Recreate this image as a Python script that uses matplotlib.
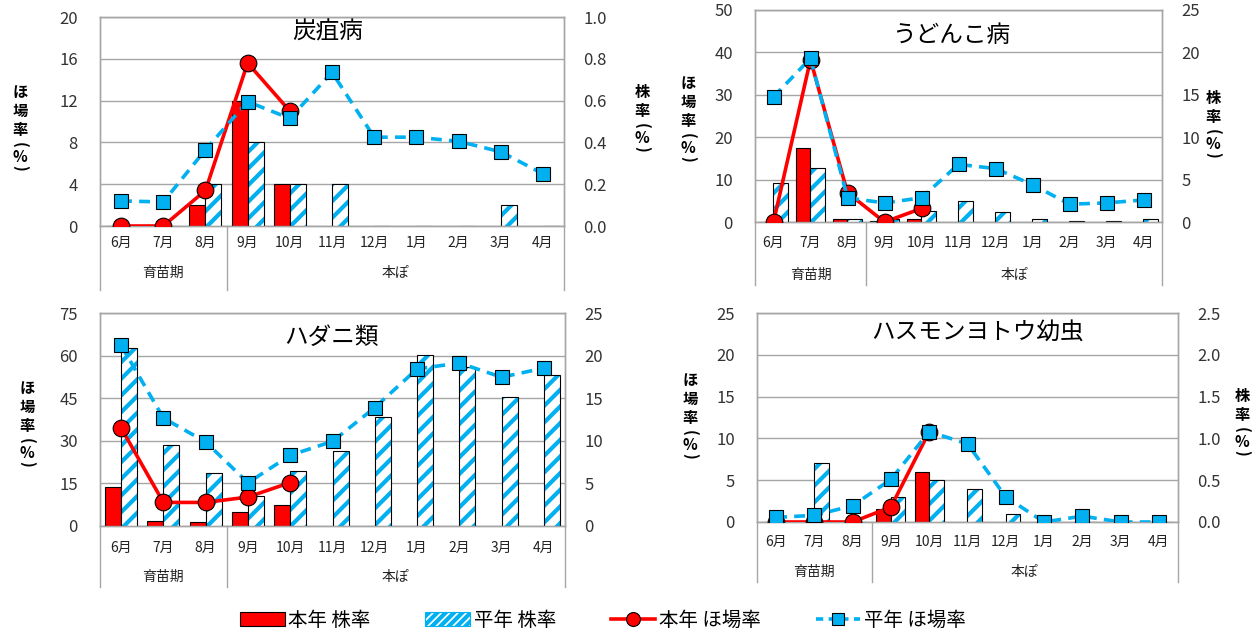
import numpy as np
import matplotlib
matplotlib.use('Agg')
import matplotlib.pyplot as plt
import matplotlib.transforms as mtransforms
from matplotlib.patches import Patch
from matplotlib.lines import Line2D

plt.rcParams['font.family'] = ['Noto Sans CJK JP', 'DejaVu Sans']
plt.rcParams['hatch.linewidth'] = 3.0

NA = np.nan
months = ['6月', '7月', '8月', '9月', '10月', '11月', '12月', '1月', '2月', '3月', '4月']
groups = ['育苗期', '本ぽ']

# 炭疽病
tanso_hon_kabu = [0, 0, 0.1, 0.6, 0.2, NA, NA, NA, NA, NA, NA]
tanso_hei_kabu = [0, 0, 0.2, 0.4, 0.2, 0.2, 0, 0, 0, 0.1, 0]
tanso_hon_hojo = [0, 0, 3.4, 15.6, 11.0, NA, NA, NA, NA, NA, NA]
tanso_hei_hojo = [2.4, 2.3, 7.3, 11.9, 10.3, 14.7, 8.5, 8.5, 8.1, 7.1, 5.0]

# うどんこ病
udon_hon_kabu = [0, 8.7, 0.3, 0.1, 0.4, NA, NA, NA, NA, NA, NA]
udon_hei_kabu = [4.6, 6.4, 0.3, 0.3, 1.3, 2.5, 1.2, 0.4, 0.1, 0.1, 0.3]
udon_hon_hojo = [0, 38.3, 6.9, 0, 3.2, NA, NA, NA, NA, NA, NA]
udon_hei_hojo = [29.5, 38.6, 5.7, 4.5, 5.7, 13.6, 12.6, 8.8, 4.2, 4.5, 5.2]

# ハダニ類
hadani_hon_kabu = [4.6, 0.6, 0.45, 1.6, 2.5, NA, NA, NA, NA, NA, NA]
hadani_hei_kabu = [20.9, 9.5, 6.2, 3.5, 6.4, 8.8, 12.8, 20.1, 18.7, 15.1, 17.7]
hadani_hon_hojo = [34.5, 8.3, 8.3, 10.2, 15.3, NA, NA, NA, NA, NA, NA]
hadani_hei_hojo = [63.6, 38.0, 29.6, 15.2, 24.9, 29.8, 41.7, 55.3, 57.4, 52.4, 55.6]

# ハスモンヨトウ幼虫
hasu_hon_kabu = [0, 0, 0, 0.15, 0.6, NA, NA, NA, NA, NA, NA]
hasu_hei_kabu = [0, 0.7, 0, 0.3, 0.5, 0.4, 0.1, 0, 0, 0, 0]
hasu_hon_hojo = [0, 0, 0, 1.8, 10.8, NA, NA, NA, NA, NA, NA]
hasu_hei_hojo = [0.55, 0.8, 1.95, 5.1, 10.8, 9.35, 3.0, 0, 0.7, 0, 0]

RED = '#FF0000'
BLUE = '#00B0F0'
GRAY = '#A6A6A6'
W, H = 1259, 633

fig = plt.figure(figsize=(W / 100, H / 100), dpi=100)


def px(x, y):
    return x / W, 1 - y / H


def vlabel(text, x, y):
    # stacked vertical label, brackets turned sideways like the original
    steps = {'(': 15, '%': 12, ')': 11}
    cy = y
    for i, ch in enumerate(text):
        if i > 0:
            cy += steps.get(ch, 19)
        rot = -90 if ch in '()' else 0
        fig.text(*px(x, cy), ch, ha='center', va='center', rotation=rot,
                 fontsize=11, fontweight='bold')


def panel(box, title, tpos, hon_kabu, hei_kabu, hon_hojo, hei_hojo,
          lmax, rmax, rfmt, offs):
    left, zero, right, top = box
    ax = fig.add_axes([left / W, 1 - zero / H, (right - left) / W, (zero - top) / H])
    ax2 = ax.twinx()
    ax.set_zorder(ax2.get_zorder() + 1)
    ax.patch.set_visible(False)
    hpx = zero - top

    x = np.arange(len(months))
    w = 0.38
    ax2.bar(x - w / 2, hon_kabu, w, color=RED, edgecolor='black', lw=0.8, zorder=3)
    ax2.bar(x + w / 2, hei_kabu, w, color='white', edgecolor=BLUE, hatch='//', lw=0, zorder=3)
    ax2.bar(x + w / 2, hei_kabu, w, fill=False, edgecolor='black', lw=0.8, zorder=4)

    ax.plot(x, hei_hojo, color=BLUE, lw=2.6, dashes=(3, 2), marker='s', ms=10,
            mfc=BLUE, mec='black', mew=0.8, zorder=4)
    ax.plot(x, hon_hojo, color=RED, lw=2.6, marker='o', ms=12,
            mfc=RED, mec='black', mew=0.8, zorder=3)

    ax.set_xlim(-0.5, len(months) - 0.5)
    ax.set_ylim(0, lmax)
    ax2.set_ylim(0, rmax)
    ax.set_yticks(np.linspace(0, lmax, 6))
    ax.set_yticklabels([f'{v:g}' for v in np.linspace(0, lmax, 6)])
    ax2.set_yticks(np.linspace(0, rmax, 6))
    ax2.set_yticklabels([rfmt.format(v) for v in np.linspace(0, rmax, 6)])
    ax.tick_params(axis='y', length=0, pad=16, labelsize=12, colors='#333333')
    ax2.tick_params(axis='y', length=0, pad=14, labelsize=12, colors='#333333')
    ax.set_xticks([])
    ax2.grid(axis='y', color=GRAY, lw=1)
    ax2.set_axisbelow(True)
    for a in (ax, ax2):
        for sp in a.spines.values():
            sp.set_color(GRAY)
            sp.set_linewidth(1)

    trans = mtransforms.blended_transform_factory(ax.transData, ax.transAxes)
    m_off, g_off, b_off = offs
    for xv in [-0.5, 2.5, len(months) - 0.5]:
        ax.plot([xv, xv], [0, -b_off / hpx], transform=trans, color=GRAY,
                lw=1, clip_on=False)
    for i, m in enumerate(months):
        ax.text(i, -m_off / hpx, m, transform=trans, ha='center', va='center',
                fontsize=10, color='#222222')
    ax.text(1, -g_off / hpx, groups[0], transform=trans, ha='center',
            va='center', fontsize=10, color='#222222')
    ax.text(6.5, -g_off / hpx, groups[1], transform=trans, ha='center',
            va='center', fontsize=10, color='#222222')
    fig.text(*px(*tpos), title, ha='center', va='center', fontsize=17)
    return ax, ax2


panel((100, 226, 564, 17), '炭疽病', (328, 32),
      tanso_hon_kabu, tanso_hei_kabu, tanso_hon_hojo, tanso_hei_hojo,
      20, 1.0, '{:.1f}', (17, 47, 64))
panel((755, 222, 1162, 10), 'うどんこ病', (951, 36),
      udon_hon_kabu, udon_hei_kabu, udon_hon_hojo, udon_hei_hojo,
      50, 25, '{:g}', (21, 53, 63))
panel((100, 526, 565, 313), 'ハダニ類', (331, 337),
      hadani_hon_kabu, hadani_hei_kabu, hadani_hon_hojo, hadani_hei_hojo,
      75, 25, '{:g}', (22, 51, 61))
panel((757, 522, 1178, 313), 'ハスモンヨトウ幼虫', (978, 332),
      hasu_hon_kabu, hasu_hei_kabu, hasu_hon_hojo, hasu_hei_hojo,
      25, 2.5, '{:.1f}', (20, 50, 60))

hojo_label = 'ほ場率(%)'
kabu_label = '株率(%)'
vlabel(hojo_label, 20, 92)
vlabel(kabu_label, 642, 92)
vlabel(hojo_label, 688, 83)
vlabel(kabu_label, 1213, 98)
vlabel(hojo_label, 27, 388)
vlabel(hojo_label, 690, 380)
vlabel(kabu_label, 1242, 396)

handles = [
    Patch(facecolor=RED, edgecolor='black', lw=0.8),
    Patch(facecolor='white', edgecolor=BLUE, hatch='////', lw=0.8),
    Line2D([], [], color=RED, lw=2.6, marker='o', ms=10, mfc=RED, mec='black', mew=0.8),
    Line2D([], [], color=BLUE, lw=2.6, dashes=(2, 1.5), marker='s', ms=9, mfc=BLUE,
           mec='black', mew=0.8),
]
labels = ['本年 株率', '平年 株率', '本年 ほ場率', '平年 ほ場率']
fig.legend(handles, labels, loc='center', bbox_to_anchor=(*px(603, 620),),
           ncol=4, frameon=False, fontsize=14, handlelength=2.3,
           handletextpad=0.2, columnspacing=2.8)

fig.savefig('out.png', dpi=100)
